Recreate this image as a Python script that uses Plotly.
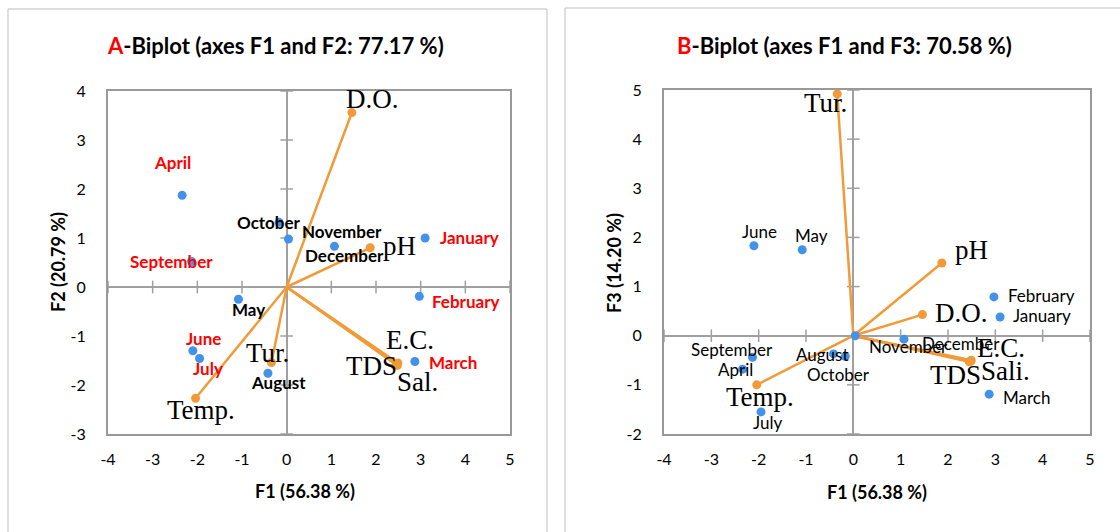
import plotly.graph_objects as go

# ---------------- data ----------------
months = ["January", "February", "March", "April", "May", "June",
          "July", "August", "September", "October", "November", "December"]
f1_months = [3.10, 2.97, 2.87, -2.34, -1.08, -2.10, -1.95, -0.42, -2.13, -0.17, 0.04, 1.07]
f2_months = [1.00, -0.19, -1.52, 1.87, -0.25, -1.30, -1.46, -1.76, 0.52, 1.32, 0.98, 0.83]
f3_months = [0.38, 0.79, -1.19, -0.68, 1.75, 1.83, -1.55, -0.37, -0.44, -0.42, 0.00, -0.07]
red_months_a = ["January", "February", "March", "April", "June", "July", "September"]

vars_a = ["D.O.", "pH", "E.C.", "TDS", "Sal.", "Tur.", "Temp."]
vars_b = ["D.O.", "pH", "E.C.", "TDS", "Sali.", "Tur.", "Temp."]
f1_vars = [1.46, 1.87, 2.49, 2.45, 2.48, -0.34, -2.04]
f2_vars = [3.56, 0.80, -1.55, -1.58, -1.60, -1.54, -2.27]
f3_vars = [0.43, 1.48, -0.50, -0.53, -0.52, 4.92, -1.00]

x_ticks = [-4, -3, -2, -1, 0, 1, 2, 3, 4, 5]
y_ticks_a = [-3, -2, -1, 0, 1, 2, 3, 4]
y_ticks_b = [-2, -1, 0, 1, 2, 3, 4, 5]

title_a = ("A", "-Biplot (axes F1 and F2: 77.17 %)")
title_b = ("B", "-Biplot (axes F1 and F3: 70.58 %)")
xlab_a = "F1 (56.38 %)"
ylab_a = "F2 (20.79 %)"
xlab_b = "F1 (56.38 %)"
ylab_b = "F3 (14.20 %)"

# ---------------- styles ----------------
W, H = 1120, 532
BLUE = "#4392EA"
ORANGE = "#F29A38"
GRAY = "#A0A0A0"
CAL = "Lato, Carlito, Calibri, sans-serif"
SERIF = "Liberation Serif, Times New Roman, serif"

# label placement offsets in screen px (anchor, dx, dy-down)
off_months_a = {
    "April": ("center", -10, -33), "September": ("center", -20, 0),
    "October": ("center", -10, 0), "November": ("left", 12, -7),
    "December": ("center", 10, 9), "January": ("left", 13, -1),
    "February": ("left", 11, 5), "March": ("left", 12, 1),
    "May": ("center", 10, 10), "June": ("center", 11, -12),
    "July": ("center", 8, 10), "August": ("center", 11, 9),
}
off_months_b = {
    "June": ("center", 6, -14), "May": ("center", 9, -14),
    "February": ("left", 12, -1), "January": ("left", 11, -2),
    "March": ("left", 12, 3), "September": ("center", -21, -8),
    "April": ("center", -7, 0), "July": ("center", 6, 11),
    "August": ("center", -11, 1), "October": ("center", -7, 18),
    "November": ("left", 12, 11), "December": ("left", 16, 4),
}
off_vars_a = {
    "D.O.": ("center", 21, -14), "pH": ("left", 11, -2), "E.C.": ("center", 12, -23),
    "TDS": ("center", -25, 2), "Sal.": ("center", 20, 17), "Tur.": ("center", -4, -9),
    "Temp.": ("center", 5, 12),
}
off_vars_b = {
    "D.O.": ("left", 11, -2), "pH": ("left", 11, -13), "E.C.": ("center", 30, -12),
    "TDS": ("center", -14, 13), "Sali.": ("center", 35, 10), "Tur.": ("center", -12, 9),
    "Temp.": ("center", 3, 12),
}

# plot areas in px: (left, right, top, bottom)
box_a = (108, 510, 91, 434)
box_b = (664, 1090, 90, 434)


def dom(box):
    l, r, t, b = box
    return [l / W, r / W], [1 - b / H, 1 - t / H]


fig = go.Figure()

panels = [
    dict(x="x", y="y", box=box_a, my=f2_months, vy=f2_vars, vnames=vars_a,
         yt=y_ticks_a, offm=off_months_a, offv=off_vars_a, bold=True),
    dict(x="x2", y="y2", box=box_b, my=f3_months, vy=f3_vars, vnames=vars_b,
         yt=y_ticks_b, offm=off_months_b, offv=off_vars_b, bold=False),
]

annotations = []
for p in panels:
    xa, ya = p["x"], p["y"]
    # tick crosses on the zero lines
    xt_in = [t for t in x_ticks if t != 0]
    yt_in = [t for t in p["yt"] if t != 0]
    fig.add_trace(go.Scatter(x=xt_in, y=[0] * len(xt_in), mode="markers", xaxis=xa, yaxis=ya,
                             marker=dict(symbol="line-ns", size=9, line=dict(color=GRAY, width=1.5)),
                             hoverinfo="skip", showlegend=False))
    fig.add_trace(go.Scatter(x=[0] * len(yt_in), y=yt_in, mode="markers", xaxis=xa, yaxis=ya,
                             marker=dict(symbol="line-ew", size=9, line=dict(color=GRAY, width=1.5)),
                             hoverinfo="skip", showlegend=False))
    # vectors
    lx, ly = [], []
    for vx, vy in zip(f1_vars, p["vy"]):
        lx += [0, vx, None]
        ly += [0, vy, None]
    fig.add_trace(go.Scatter(x=lx, y=ly, mode="lines", xaxis=xa, yaxis=ya,
                             line=dict(color=ORANGE, width=2.5), showlegend=False, hoverinfo="skip"))
    fig.add_trace(go.Scatter(x=f1_vars, y=p["vy"], mode="markers", xaxis=xa, yaxis=ya,
                             marker=dict(color=ORANGE, size=9), showlegend=False))
    # observations
    fig.add_trace(go.Scatter(x=f1_months, y=p["my"], mode="markers", xaxis=xa, yaxis=ya,
                             marker=dict(color=BLUE, size=9), showlegend=False))
    for m, mx, my in zip(months, f1_months, p["my"]):
        anc, dx, dy = p["offm"][m]
        if p["bold"]:
            col = "#FF0000" if m in red_months_a else "#000000"
            txt = "<b>" + m + "</b>"
        else:
            col = "#000000"
            txt = m
        annotations.append(dict(x=mx, y=my, xref=xa, yref=ya, text=txt, showarrow=False,
                                xanchor=anc, yanchor="middle", xshift=dx, yshift=-dy,
                                font=dict(family=CAL, size=17, color=col)))
    for v, vx, vy in zip(p["vnames"], f1_vars, p["vy"]):
        anc, dx, dy = p["offv"][v]
        annotations.append(dict(x=vx, y=vy, xref=xa, yref=ya, text=v, showarrow=False,
                                xanchor=anc, yanchor="middle", xshift=dx, yshift=-dy,
                                font=dict(family=SERIF, size=27, color="#000000")))

# titles and axis titles
for (letter, rest), cx in [(title_a, 275), (title_b, 844)]:
    annotations.append(dict(x=cx / W, y=1 - 45 / H, xref="paper", yref="paper", showarrow=False,
                            text="<b><span style='color:#FF0000'>" + letter + "</span>" + rest + "</b>",
                            xanchor="center", yanchor="middle",
                            font=dict(family=CAL, size=22, color="#000000")))
for txt, cx, cy, ang in [(xlab_a, 305, 491, 0), (ylab_a, 58, 262, -90),
                         (xlab_b, 877, 492, 0), (ylab_b, 614, 263, -90)]:
    annotations.append(dict(x=cx / W, y=1 - cy / H, xref="paper", yref="paper", showarrow=False,
                            text="<b>" + txt + "</b>", textangle=ang, xanchor="center", yanchor="middle",
                            font=dict(family=CAL, size=18, color="#000000")))

shapes = [
    dict(type="rect", xref="paper", yref="paper", x0=8 / W, x1=547 / W, y0=-0.05, y1=1 - 9 / H,
         line=dict(color="#BFBFBF", width=1), layer="below"),
    dict(type="rect", xref="paper", yref="paper", x0=565 / W, x1=1.05, y0=-0.05, y1=1 - 8 / H,
         line=dict(color="#BFBFBF", width=1), layer="below"),
]

axis_common = dict(showgrid=False, zeroline=True, zerolinecolor=GRAY, zerolinewidth=1.5,
                   showline=True, mirror=True, linecolor="#999999", linewidth=2,
                   ticks="", automargin=False,
                   tickfont=dict(family=CAL, size=16, color="#000000"))

xd_a, yd_a = dom(box_a)
xd_b, yd_b = dom(box_b)
fig.update_layout(
    width=W, height=H, margin=dict(l=0, r=0, t=0, b=0),
    paper_bgcolor="white", plot_bgcolor="white", showlegend=False,
    xaxis=dict(domain=xd_a, range=[-4, 5], tickvals=x_ticks, ticktext=[str(t) for t in x_ticks],
               anchor="y", ticklabelstandoff=10, **axis_common),
    yaxis=dict(domain=yd_a, range=[-3, 4], tickvals=y_ticks_a, ticktext=[str(t) for t in y_ticks_a],
               anchor="x", ticklabelstandoff=17, **axis_common),
    xaxis2=dict(domain=xd_b, range=[-4, 5], tickvals=x_ticks, ticktext=[str(t) for t in x_ticks],
                anchor="y2", ticklabelstandoff=10, **axis_common),
    yaxis2=dict(domain=yd_b, range=[-2, 5], tickvals=y_ticks_b, ticktext=[str(t) for t in y_ticks_b],
                anchor="x2", ticklabelstandoff=17, **axis_common),
    annotations=annotations, shapes=shapes,
)

fig.write_html("out.html")
